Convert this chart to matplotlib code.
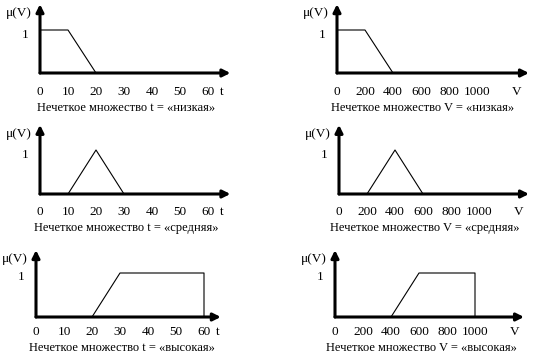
import matplotlib.pyplot as plt
from matplotlib.transforms import ScaledTranslation

plt.rcParams['font.family'] = ['Liberation Serif', 'DejaVu Serif']

# данные: функции принадлежности
t_ticks = [0, 10, 20, 30, 40, 50, 60]
v_ticks = [0, 200, 400, 600, 800, 1000]

t_low_x = [0, 10, 20]
t_low_y = [1, 1, 0]
t_mid_x = [10, 20, 30]
t_mid_y = [0, 1, 0]
t_high_x = [20, 30, 60, 60]
t_high_y = [0, 1, 1, 0]

v_low_x = [0, 200, 400]
v_low_y = [1, 1, 0]
v_mid_x = [200, 400, 600]
v_mid_y = [0, 1, 0]
v_high_x = [400, 600, 1000, 1000]
v_high_y = [0, 1, 1, 0]

captions = [
    'Нечеткое множество t = «низкая»',
    'Нечеткое множество V = «низкая»',
    'Нечеткое множество t = «средняя»',
    'Нечеткое множество V = «средняя»',
    'Нечеткое множество t = «высокая»',
    'Нечеткое множество V = «высокая»',
]

W, H = 544, 360
fig = plt.figure(figsize=(W / 100, H / 100), dpi=100)

# (x нуля, y оси x, пикс. на ед. x, пикс. на ед. y, xmax, ymax, отступ подписей, отступ названия)
layout = [
    (40, 73, 2.8, 43, 68, 1.6, 19, 35),
    (337, 73, 0.14, 43, 1371, 1.6, 19, 35),
    (40, 194, 2.8, 44, 68, 1.57, 18, 34),
    (339, 194, 0.14, 44, 1357, 1.57, 18, 34),
    (36, 317, 2.8, 44, 66, 1.52, 15, 31),
    (335, 317, 0.14, 44, 1350, 1.52, 15, 31),
]

series = [
    (t_low_x, t_low_y, t_ticks, 't', 65),
    (v_low_x, v_low_y, v_ticks, 'V', 1280),
    (t_mid_x, t_mid_y, t_ticks, 't', 65),
    (v_mid_x, v_mid_y, v_ticks, 'V', 1280),
    (t_high_x, t_high_y, t_ticks, 't', 65),
    (v_high_x, v_high_y, v_ticks, 'V', 1280),
]

for (x0, yb, sx, sy, xmax, ymax, lab_off, cap_off), (xs, ys, ticks, name, name_x), cap in zip(layout, series, captions):
    ax = fig.add_axes([x0 / W, (H - yb) / H, xmax * sx / W, ymax * sy / H])
    ax.set_xlim(0, xmax)
    ax.set_ylim(0, ymax)
    for s in ax.spines.values():
        s.set_visible(False)
    ax.patch.set_visible(False)

    ax.plot(xs, ys, color='black', lw=0.8, clip_on=False)

    # оси со стрелками
    arrow = dict(arrowstyle='-|>', lw=2.2, color='black', mutation_scale=11,
                 shrinkA=0, shrinkB=0)
    ax.annotate('', xy=(xmax, 0), xytext=(0, 0), arrowprops=arrow, annotation_clip=False)
    ax.annotate('', xy=(0, ymax), xytext=(0, 0), arrowprops=arrow, annotation_clip=False)

    ax.set_xticks(ticks)
    ax.set_xticklabels([])
    for v in ticks:
        ax.annotate(str(v), xy=(v, 0), xytext=(0, -lab_off), textcoords='offset pixels',
                    ha='center', va='center', fontsize=9.5)
    ax.annotate(name, xy=(name_x, 0), xytext=(0, -lab_off), textcoords='offset pixels',
                ha='center', va='center', fontsize=9.5)
    ax.set_yticks([1])
    ax.set_yticklabels(['1'])
    ax.tick_params(length=0, labelsize=9.5)
    ax.tick_params(axis='y', pad=8)
    for lbl in ax.get_yticklabels():
        lbl.set_transform(lbl.get_transform() + ScaledTranslation(0, -0.03, fig.dpi_scale_trans))

    ax.annotate('μ(V)', xy=(0, ymax), xytext=(-21, -9), textcoords='offset pixels',
                ha='center', va='center', fontsize=9.5)
    ax.annotate(cap, xy=(0, 0), xytext=(86, -cap_off), textcoords='offset pixels',
                ha='center', va='center', fontsize=9)

fig.savefig('out.png', dpi=100)
